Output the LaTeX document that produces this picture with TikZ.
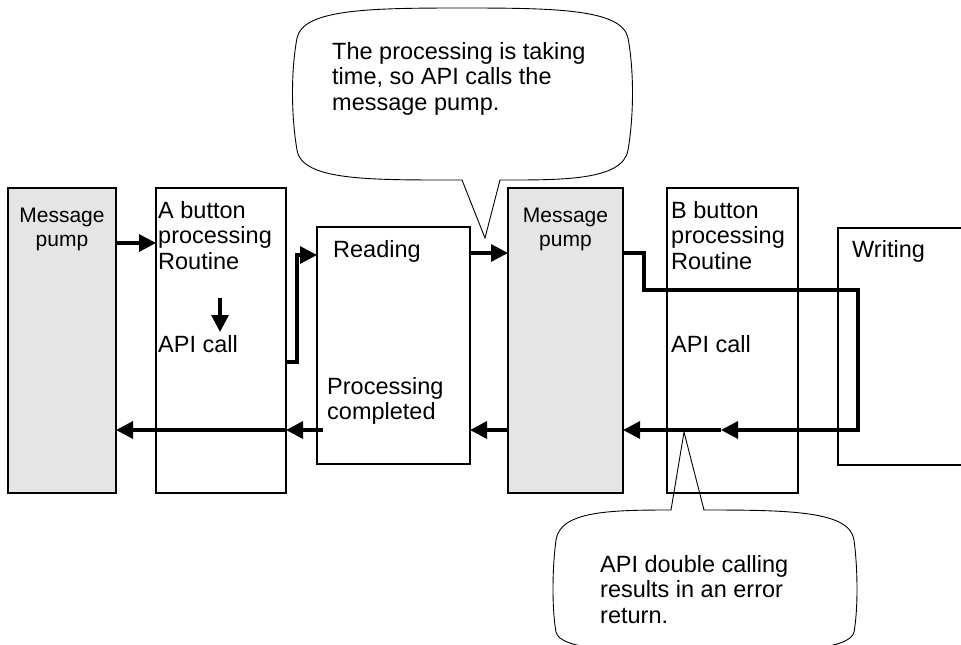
\documentclass[tikz,border=0pt]{standalone}
\usepackage{fontspec}
\setmainfont{Liberation Sans}
\usetikzlibrary{arrows.meta,calc,positioning}

\begin{document}
\begin{tikzpicture}[x=1pt,y=-1pt,
  box/.style={draw,line width=2.4pt,anchor=north west,inner sep=0pt,outer sep=0pt},
  pumpbox/.style={box,fill=gray!20},
  txt/.style={font=\fontsize{23.5}{25.5}\selectfont,align=left,inner sep=0pt,anchor=north west},
  pumptxt/.style={font=\fontsize{21}{23.5}\selectfont,align=center,inner sep=0pt},
  conn/.style={line width=3.2pt},
  arr/.style={conn,-{Triangle[length=17pt,width=17pt]}},
  balloon/.style={line width=.9pt}]
\useasboundingbox (0,0) rectangle (961,645);
\clip (0,0) rectangle (961,645);

% columns
\node[pumpbox,minimum width=108,minimum height=305] (pump1) at (8,188) {};
\node[box,minimum width=130,minimum height=305] (boxA) at (156,188) {};
\node[box,minimum width=153,minimum height=237] (read) at (317,227) {};
\node[pumpbox,minimum width=115,minimum height=305] (pump2) at (508,188) {};
\node[box,minimum width=131,minimum height=305] (boxB) at (667,188) {};
\node[box,minimum width=200,minimum height=237] (write) at (838,228) {};

% texts
\node[pumptxt,below=20pt of pump1.north] (p1txt) {Message\\pump};
\node[txt,below right=13pt and 2pt of boxA.north west] (atxt) {A button\\processing\\Routine};
\node[txt,below right=147pt and 2pt of boxA.north west] (acall) {API call};
\node[txt,below right=13pt and 16pt of read.north west] (rtxt) {Reading};
\node[txt,below right=150pt and 10pt of read.north west] (ptxt) {Processing\\completed};
\node[pumptxt,below=20pt of pump2.north] (p2txt) {Message\\pump};
\node[txt,below right=13pt and 4pt of boxB.north west] (btxt) {B button\\processing\\Routine};
\node[txt,below right=147pt and 4pt of boxB.north west] (bcall) {API call};
\node[txt,below right=12.5pt and 14pt of write.north west] (wtxt) {Writing};

% rows and turning points
\coordinate (rowA) at (0,243);
\coordinate (rowP) at (0,253);
\coordinate (rowR) at (0,255);
\coordinate (rowB) at (0,290);
\coordinate (rowD) at (0,362);
\coordinate (rowRet) at (0,430);
\coordinate (jogA) at (297,0);
\coordinate (jogB) at (644,0);
\coordinate (turnW) at (858,0);
\coordinate (midB) at (721,430);

% connectors
\draw[arr] (pump1.east |- rowA) -- (boxA.west |- rowA);
\draw[arr] ([xshift=5pt,yshift=-28pt]atxt.south) -- ([xshift=5pt,yshift=3pt]atxt.south |- acall.north);
\draw[arr] (boxA.east |- rowD) -| (jogA |- rowR) -- (read.west |- rowR);
\draw[arr] (read.east |- rowP) -- (pump2.west |- rowP);
\draw[arr] (pump2.east |- rowP) -| (jogB |- rowB) -| (turnW |- rowRet) -- (midB);
\draw[arr] (midB) -- (pump2.east |- rowRet);
\draw[arr] (pump2.west |- rowRet) -- (read.east |- rowRet);
\draw[arr] ([xshift=6pt]read.west |- rowRet) -- (boxA.east |- rowRet);
\draw[arr] (boxA.east |- rowRet) -- (pump1.east |- rowRet);

% balloons
\draw[balloon] (462,180) .. controls (370,180) and (302,181) .. (297,150)
  .. controls (291,115) and (291,70) .. (297,38)
  .. controls (303,9) and (370,8) .. (462,8)
  .. controls (555,8) and (622,9) .. (628,38)
  .. controls (634,70) and (634,115) .. (628,150)
  .. controls (623,181) and (560,180) .. (500,180)
  -- (485,238) -- cycle;
\node[txt] (ctop) at (332,42) {The processing is taking\\time, so API calls the\\message pump.};

\draw[balloon] (671,510) .. controls (610,510) and (560,511) .. (556,540)
  .. controls (552,570) and (552,610) .. (556,632)
  .. controls (560,650) and (620,652) .. (705,652)
  .. controls (790,652) and (850,650) .. (854,632)
  .. controls (858,610) and (858,570) .. (854,540)
  .. controls (850,511) and (790,510) .. (704,510)
  -- (684,432) -- cycle;
\node[txt] (cbot) at (600,555) {API double calling\\results in an error\\return.};
\end{tikzpicture}
\end{document}
